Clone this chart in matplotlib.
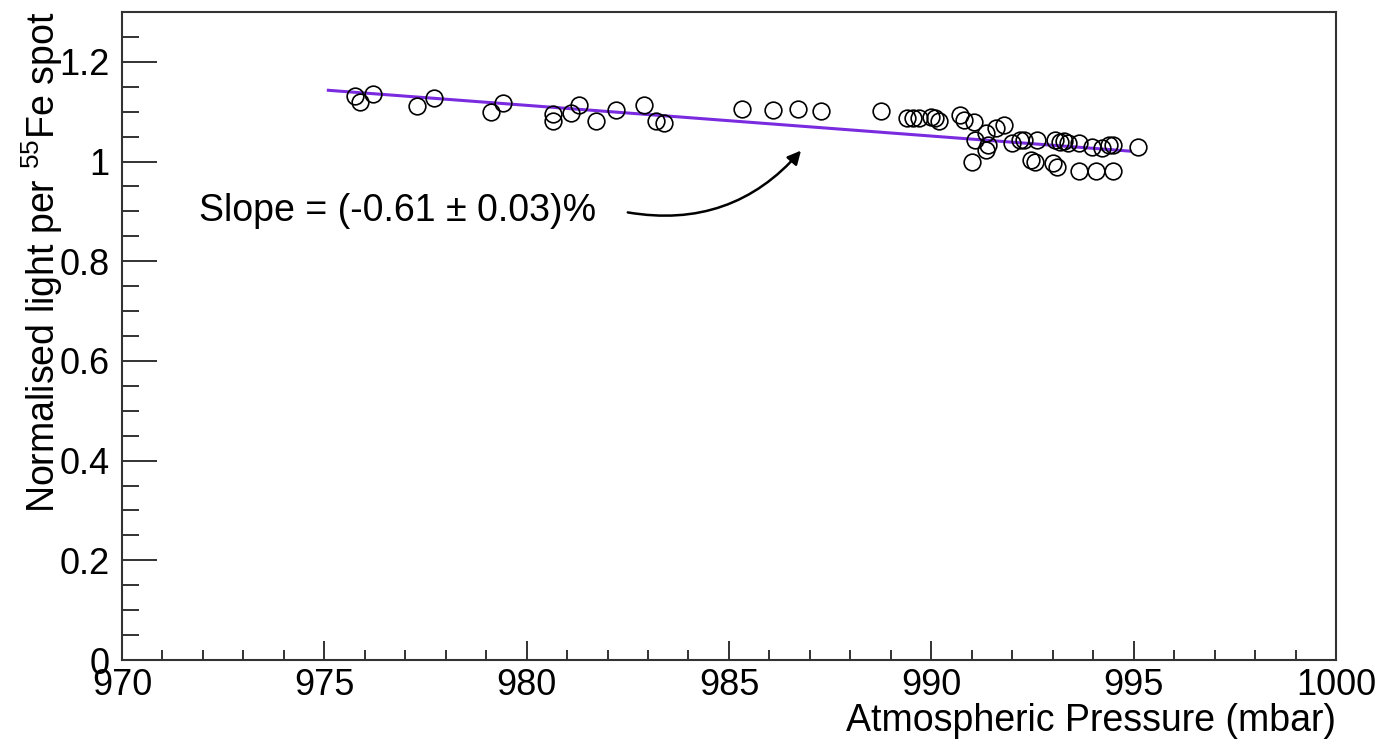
import numpy as np
import matplotlib.pyplot as plt
from matplotlib.ticker import MultipleLocator

plt.rcParams['font.family'] = ['Liberation Sans', 'DejaVu Sans']
plt.rcParams['mathtext.fontset'] = 'custom'
plt.rcParams['mathtext.rm'] = 'Liberation Sans'
plt.rcParams['mathtext.default'] = 'regular'

# pressure (mbar) and normalised light
pressure = [975.77, 975.89, 976.21, 977.29, 977.71, 979.11, 979.42,
            980.64, 980.64, 981.09, 981.29, 981.71, 982.20, 982.90, 983.19, 983.40,
            985.31, 986.08, 986.70, 987.28, 988.76,
            989.40, 989.55, 989.70, 990.00, 990.08, 990.20,
            990.70, 990.82, 991.05, 991.00, 991.07, 991.36, 991.36, 991.40,
            991.60, 991.80, 992.00, 992.18, 992.28, 992.47, 992.57, 992.60,
            993.00, 993.10, 993.05, 993.17, 993.27, 993.39, 993.64, 993.66,
            993.96, 994.08, 994.21, 994.40, 994.50, 994.50, 995.12]
light = [1.131, 1.119, 1.135, 1.111, 1.128, 1.099, 1.118,
         1.096, 1.082, 1.098, 1.114, 1.081, 1.103, 1.114, 1.081, 1.078,
         1.106, 1.104, 1.106, 1.102, 1.102,
         1.088, 1.088, 1.088, 1.090, 1.088, 1.082,
         1.094, 1.084, 1.080, 1.000, 1.044, 1.058, 1.024, 1.034,
         1.068, 1.074, 1.038, 1.044, 1.044, 1.004, 1.000, 1.044,
         0.998, 0.990, 1.044, 1.040, 1.042, 1.038, 1.038, 0.981,
         1.030, 0.981, 1.028, 1.034, 1.034, 0.981, 1.030]

# linear fit end points
fit_p = [975.1, 994.9]
fit_val = [1.143, 1.021]

fig = plt.figure(figsize=(13.81, 7.43), dpi=100)
ax = fig.add_axes([0.0883, 0.1117, 0.8791, 0.8721])

ax.plot(fit_p, fit_val, color='#7a2be0', lw=2.2, zorder=2)
ax.plot(pressure, light, 'o', mfc='none', mec='black', ms=12, mew=1.2, zorder=3)

ax.set_xlim(970, 1000)
ax.set_ylim(0, 1.3)
ax.xaxis.set_major_locator(MultipleLocator(5))
ax.xaxis.set_minor_locator(MultipleLocator(1))
ax.yaxis.set_major_locator(MultipleLocator(0.2))
ax.yaxis.set_minor_locator(MultipleLocator(0.05))
ax.yaxis.set_major_formatter(plt.FuncFormatter(lambda v, p: '%g' % round(v, 2)))

ax.tick_params(axis='both', which='both', direction='in', top=False, right=False,
               labelsize=26, colors='#222222', labelcolor='black', width=1.3)
ax.tick_params(axis='x', which='major', length=14, pad=6)
ax.tick_params(axis='x', which='minor', length=7)
ax.tick_params(axis='y', which='major', length=25, pad=9)
ax.tick_params(axis='y', which='minor', length=12)
for s in ax.spines.values():
    s.set_linewidth(1.5)
    s.set_color('#333333')

ax.set_xlabel('Atmospheric Pressure (mbar)', fontsize=27, loc='right', labelpad=0)
ax.set_ylabel(r'Normalised light per $^{55}$Fe spot', fontsize=27, loc='top')
ax.yaxis.set_label_coords(-0.047, 1.0)

# fit annotation
ax.text(971.9, 0.90, 'Slope = (-0.61 ± 0.03)%', fontsize=27, va='center', ha='left')
ax.annotate('', xy=(986.78, 1.022), xytext=(982.5, 0.898),
            arrowprops=dict(arrowstyle='-|>', color='black', lw=1.8, mutation_scale=20,
                            connectionstyle='arc3,rad=0.28', shrinkA=0, shrinkB=0))

fig.savefig('out.png', dpi=100)
